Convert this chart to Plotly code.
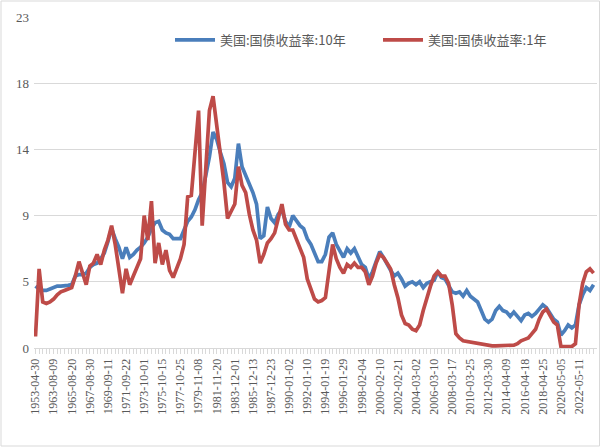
import plotly.graph_objects as go

# Observation index step between samples and between axis labels
SAMPLE_STEP = 100
LABEL_STEP = 500

tick_labels = [
    "1953-04-30", "1963-08-09", "1965-08-20", "1967-08-30", "1969-09-11",
    "1971-09-22", "1973-10-01", "1975-10-15", "1977-10-25", "1979-11-08",
    "1981-11-20", "1983-12-01", "1985-12-13", "1987-12-23", "1990-01-02",
    "1992-01-10", "1994-01-19", "1996-01-29", "1998-02-04", "2000-02-10",
    "2002-02-21", "2004-03-02", "2006-03-10", "2008-03-17", "2010-03-25",
    "2012-03-30", "2014-04-09", "2016-04-18", "2018-04-25", "2020-05-05",
    "2022-05-11",
]

y10 = [
    4.3, 4.1, 4.0, 4.0, 4.1, 4.2, 4.3, 4.3, 4.3, 4.35,
    4.4, 5.0, 5.1, 5.1, 5.2, 5.6, 5.8, 5.9, 6.2, 6.6,
    7.4, 8.3, 7.6, 7.0, 6.2, 7.0, 6.3, 6.5, 6.8, 7.0,
    7.3, 7.7, 8.3, 8.7, 8.8, 8.2, 8.0, 7.9, 7.6, 7.6,
    7.6, 8.2, 8.8, 9.1, 9.6, 10.3, 10.8, 12.0, 13.3, 15.0,
    14.5, 13.6, 12.8, 11.5, 11.2, 11.8, 14.2, 12.6, 12.0, 11.5,
    10.8, 10.0, 7.6, 7.8, 9.8, 9.0, 8.7, 9.3, 9.6, 8.8,
    8.4, 9.2, 8.8, 8.5, 8.3, 7.6, 7.2, 6.6, 6.0, 6.0,
    6.5, 7.7, 8.0, 7.2, 6.8, 6.3, 6.9, 6.6, 6.9, 6.3,
    5.8, 5.6, 4.8, 5.3, 6.0, 6.7, 6.3, 5.8, 5.4, 5.0,
    5.2, 4.8, 4.3, 4.5, 4.6, 4.4, 4.6, 4.2, 4.5, 4.6,
    4.7, 5.3, 4.9, 4.8, 4.3, 3.9, 3.8, 3.9, 3.6, 4.0,
    3.6, 3.4, 3.2, 2.6, 2.0, 1.8, 2.0, 2.6, 2.9, 2.6,
    2.5, 2.2, 2.5, 2.2, 1.9, 2.3, 2.4, 2.2, 2.4, 2.7,
    3.0, 2.8, 2.4, 2.0, 1.8, 0.9, 1.2, 1.6, 1.4, 1.6,
    3.0, 3.7, 4.2, 4.0, 4.4,
]

y1 = [
    0.8, 5.5, 3.2, 3.1, 3.2, 3.4, 3.7, 3.9, 4.0, 4.1,
    4.2, 5.0, 6.0, 5.2, 4.4, 5.7, 5.9, 6.5, 5.8, 6.8,
    7.5, 8.5, 7.2, 5.5, 3.8, 5.5, 4.4, 5.0, 5.6, 6.2,
    9.2, 7.5, 10.2, 5.9, 7.3, 5.8, 6.8, 5.4, 4.9, 5.5,
    6.2, 7.2, 10.5, 10.6, 13.5, 16.5, 8.5, 13.0, 16.5, 17.5,
    15.5, 14.0, 11.5, 9.0, 9.5, 10.0, 12.6, 11.3, 10.8, 9.3,
    8.2, 7.5, 5.9, 6.5, 7.3, 7.6, 8.0, 9.0, 10.0, 8.6,
    8.2, 8.2, 7.6, 7.0, 6.3, 4.8, 4.0, 3.4, 3.2, 3.3,
    3.5, 5.2, 7.2, 6.2, 5.6, 5.2, 5.8, 5.6, 5.9, 5.6,
    5.6, 5.3, 4.4, 5.0, 5.9, 6.5, 6.3, 5.9, 5.5, 4.4,
    3.5, 2.3, 1.7, 1.6, 1.3, 1.2, 1.6, 2.6, 3.5, 4.3,
    5.0, 5.3, 5.0, 5.0, 4.5, 3.0, 1.0, 0.7, 0.5, 0.45,
    0.4, 0.35, 0.3, 0.25, 0.2, 0.2, 0.15, 0.15, 0.15, 0.15,
    0.15, 0.15, 0.2, 0.3, 0.5, 0.6, 0.7, 1.0, 1.3, 2.0,
    2.5, 2.7, 2.2, 1.8, 1.6, 0.1, 0.1, 0.1, 0.1, 0.3,
    3.0, 4.5, 5.3, 5.5, 5.2,
]

obs10 = [i * SAMPLE_STEP for i in range(len(y10))]
obs1 = [i * SAMPLE_STEP for i in range(len(y1))]
tick_pos = [i * LABEL_STEP for i in range(len(tick_labels))]

BLUE = "#4A7EBB"
RED = "#BE4B48"
GRID = "#D9D9D9"
TXT = "#595959"
FONT = "Liberation Serif, Noto Sans CJK SC, serif"

fig = go.Figure()
fig.add_trace(go.Scatter(x=obs10, y=y10, mode="lines", name="美国:国债收益率:10年",
                         line=dict(color=BLUE, width=3.7)))
fig.add_trace(go.Scatter(x=obs1, y=y1, mode="lines", name="美国:国债收益率:1年",
                         line=dict(color=RED, width=3.7)))

W, H = 601, 447
L, R, T, B = 34, 4, 17, 99
pw = W - L - R
ph = H - T - B

fig.update_layout(
    width=W, height=H,
    margin=dict(l=L, r=R, t=T, b=B, autoexpand=False),
    paper_bgcolor="white", plot_bgcolor="white",
    font=dict(family=FONT, color=TXT, size=13),
    showlegend=True,
    legend=dict(orientation="h", x=(170 - L) / pw, y=(H - B - 40) / ph,
                xanchor="left", yanchor="middle",
                font=dict(family="Noto Sans CJK SC, sans-serif", size=13, color=TXT),
                bgcolor="rgba(0,0,0,0)", entrywidth=153, entrywidthmode="pixels",
                itemwidth=40),
    xaxis=dict(
        range=[-41, 15495], automargin=False,
        tickmode="array", tickvals=tick_pos, ticktext=tick_labels,
        tickangle=-90, tickfont=dict(size=12, color=TXT, family=FONT),
        showgrid=False, zeroline=False,
        showline=True, linecolor=GRID, linewidth=1,
        ticks="outside", ticklen=5, tickcolor=GRID,
        minor=dict(ticks="outside", ticklen=5, tickcolor=GRID, dtick=SAMPLE_STEP,
                   tick0=0, showgrid=False),
    ),
    yaxis=dict(
        range=[0, 23], tick0=0, dtick=4.6, tickformat=".0f", automargin=False,
        showgrid=True, gridcolor=GRID, gridwidth=1, zeroline=False,
        showline=False, ticks="", ticklabelstandoff=4,
        tickfont=dict(size=13, color=TXT, family=FONT),
    ),
    shapes=[dict(type="rect", xref="paper", yref="paper",
                 x0=(-L + 1) / pw, x1=(W - L - 1.5) / pw,
                 y0=(-B + 1) / ph, y1=(H - B - 1) / ph,
                 line=dict(color=GRID, width=1), fillcolor="rgba(0,0,0,0)",
                 layer="above")],
)

fig.write_html("out.html", config={"displayModeBar": False},
               post_script="document.body.style.margin='0';")
